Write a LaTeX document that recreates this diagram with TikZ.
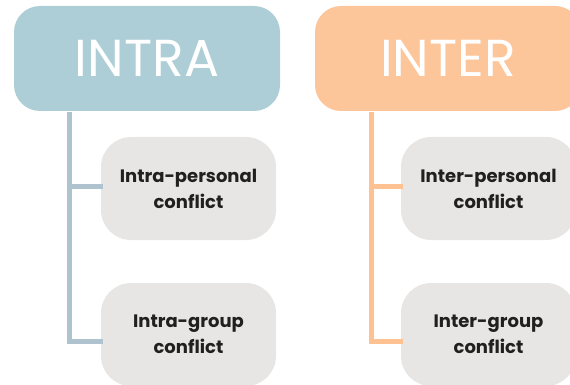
\documentclass[tikz,border=0pt]{standalone}
\usepackage{fontspec}
\setmainfont{Poppins}
\definecolor{intrablue}{HTML}{ADCED6}
\definecolor{intraline}{HTML}{AFC3CF}
\definecolor{interorange}{HTML}{FDC59A}
\definecolor{interline}{HTML}{FDC192}
\definecolor{boxgray}{HTML}{E7E6E4}
\definecolor{textdark}{HTML}{231F20}
\begin{document}
\begin{tikzpicture}[x=1pt, y=-1pt, line join=miter, line cap=rect,
    headbox/.style={rounded corners=26pt, minimum width=266pt, minimum height=105pt, inner sep=0pt, text=white, font=\fontsize{52}{52}\selectfont},
    kindbox/.style={fill=boxgray, rounded corners=30pt, minimum width=175pt, minimum height=103pt, inner sep=0pt, align=center, text=textdark, font=\fontsize{18}{26}\selectfont\bfseries},
    branch/.style={line width=5pt}]
    \useasboundingbox (0,0) rectangle (570,385);
    % left column
    \node[headbox, fill=intrablue] (intra) at (147, 58.5) {INTRA};
    \node[kindbox] (intrapers) at (188.5, 188.5) {Intra-personal\\conflict};
    \node[kindbox] (intragroup) at (188.5, 334.5) {Intra-group\\conflict};
    \draw[branch, intraline] ([xshift=56pt, yshift=-3pt]intra.south west) |- ([yshift=-6.5pt]intragroup.west);
    \draw[branch, intraline] ([xshift=56pt, yshift=2.5pt]intra.south west |- intrapers.west) -- ([yshift=2.5pt]intrapers.west);
    % right column
    \node[headbox, fill=interorange] (inter) at (448, 58.5) {INTER};
    \node[kindbox] (interpers) at (488.5, 188.5) {Inter-personal\\conflict};
    \node[kindbox] (intergroup) at (488.5, 334.5) {Inter-group\\conflict};
    \draw[branch, interline] ([xshift=57pt, yshift=-3pt]inter.south west) |- ([yshift=-6.5pt]intergroup.west);
    \draw[branch, interline] ([xshift=57pt, yshift=2.5pt]inter.south west |- interpers.west) -- ([yshift=2.5pt]interpers.west);
\end{tikzpicture}
\end{document}
